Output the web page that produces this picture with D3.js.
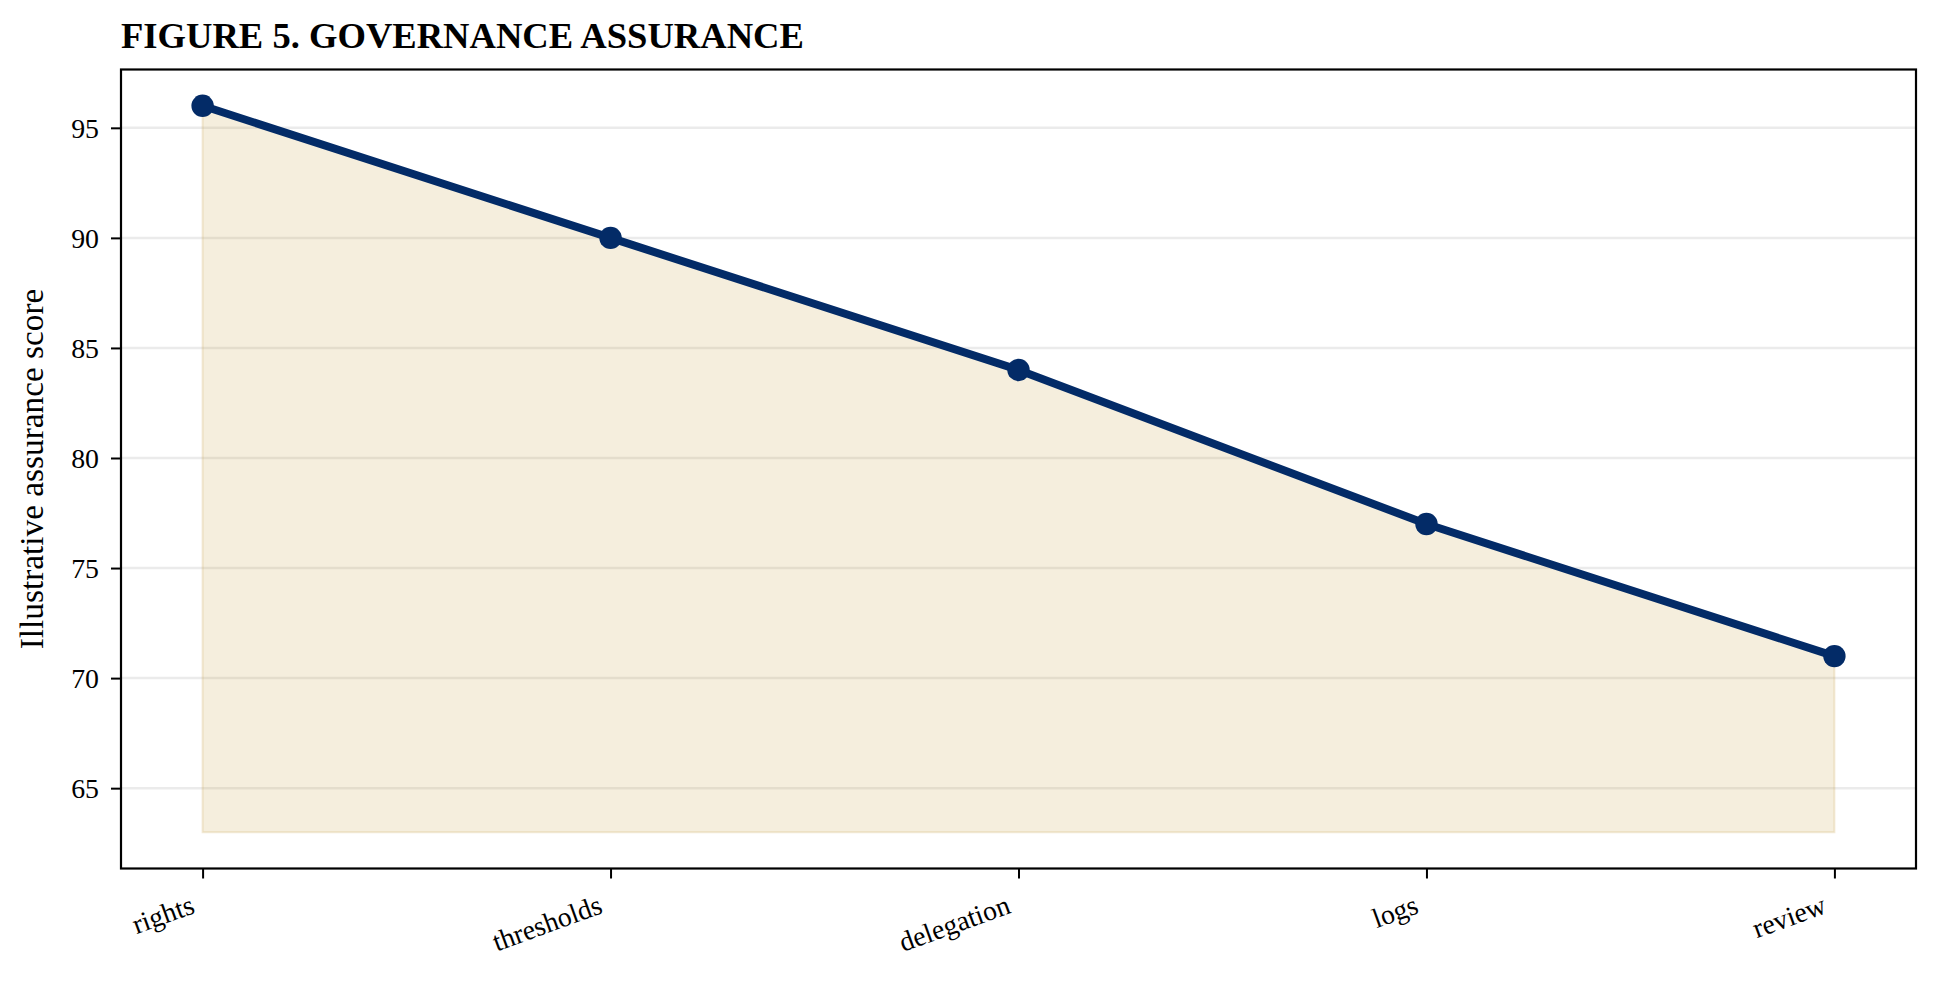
<!DOCTYPE html>
<html>
<head>
<meta charset="utf-8">
<script src="https://cdn.jsdelivr.net/npm/d3@7"></script>
<style>
  html, body { margin: 0; padding: 0; background: #fff; }
  svg text { font-family: "Liberation Serif", "Times New Roman", serif; fill: #000; }
</style>
</head>
<body>
<div id="chart"></div>
<script>
// chart data
const categories = ['rights', 'thresholds', 'delegation', 'logs', 'review'];
const scores = [96, 90, 84, 77, 71];
const fillBase = 63;
const yTicks = [65, 70, 75, 80, 85, 90, 95];
const chartTitle = 'FIGURE 5. GOVERNANCE ASSURANCE';
const yLabel = 'Illustrative assurance score';

const width = 1940;
const height = 983;
const margin = { top: 69.5, right: 24, bottom: 114.5, left: 121 };
const innerW = width - margin.left - margin.right;
const innerH = height - margin.top - margin.bottom;

const svg = d3.select('#chart')
    .append('svg')
    .attr('width', width)
    .attr('height', height);

// 5% padding around the data, the way matplotlib does autoscaling
const n = categories.length;
const xPad = (n - 1) * 0.05;
const x = d3.scaleLinear()
    .domain([-xPad, n - 1 + xPad])
    .range([0, innerW]);

const yMin = Math.min(fillBase, d3.min(scores));
const yMax = d3.max(scores);
const yPad = (yMax - yMin) * 0.05;
const y = d3.scaleLinear()
    .domain([yMin - yPad, yMax + yPad])
    .range([innerH, 0]);

const g = svg.append('g')
    .attr('transform', `translate(${margin.left},${margin.top})`);

// horizontal grid
g.append('g')
    .selectAll('line')
    .data(yTicks)
    .enter().append('line')
    .attr('x1', 0)
    .attr('x2', innerW)
    .attr('y1', d => y(d))
    .attr('y2', d => y(d))
    .attr('stroke', '#ebebeb')
    .attr('stroke-width', 2.5);

const pts = scores.map((v, i) => ({ i, v }));

// shaded area under the line
const area = d3.area()
    .x(d => x(d.i))
    .y0(y(fillBase))
    .y1(d => y(d.v));

g.append('path')
    .datum(pts)
    .attr('d', area)
    .attr('fill', '#c9a34c')
    .attr('fill-opacity', 0.19)
    .attr('stroke', '#c9a34c')
    .attr('stroke-opacity', 0.22)
    .attr('stroke-width', 2);

// line + markers
const line = d3.line()
    .x(d => x(d.i))
    .y(d => y(d.v));

g.append('path')
    .datum(pts)
    .attr('d', line)
    .attr('fill', 'none')
    .attr('stroke', '#032b67')
    .attr('stroke-width', 8)
    .attr('stroke-linejoin', 'round');

g.selectAll('circle.pt')
    .data(pts)
    .enter().append('circle')
    .attr('class', 'pt')
    .attr('cx', d => x(d.i))
    .attr('cy', d => y(d.v))
    .attr('r', 11.2)
    .attr('fill', '#032b67');

// y axis
const yAxis = g.append('g')
    .call(d3.axisLeft(y).tickValues(yTicks).tickSize(10).tickPadding(12).tickFormat(d3.format('d')));
yAxis.select('.domain').remove();
yAxis.selectAll('line').attr('stroke', '#000').attr('stroke-width', 2);
yAxis.selectAll('text')
    .style('font-size', '27.8px')
    .attr('dy', '0.34em');

// x axis
const xAxis = g.append('g')
    .attr('transform', `translate(0,${innerH})`)
    .call(d3.axisBottom(x).tickValues(d3.range(n)).tickSize(10).tickFormat(i => categories[i]));
xAxis.select('.domain').remove();
xAxis.selectAll('line').attr('stroke', '#000').attr('stroke-width', 2);
xAxis.selectAll('text')
    .style('font-size', '27.8px')
    .attr('text-anchor', 'end')
    .attr('dy', null)
    .attr('y', 0)
    .attr('transform', 'translate(-7,44) rotate(-20)');

// frame
g.append('rect')
    .attr('x', 0)
    .attr('y', 0)
    .attr('width', innerW)
    .attr('height', innerH)
    .attr('fill', 'none')
    .attr('stroke', '#000')
    .attr('stroke-width', 2.2);

// title
svg.append('text')
    .attr('x', margin.left)
    .attr('y', 48)
    .style('font-size', '36.6px')
    .style('font-weight', 'bold')
    .text(chartTitle);

// y label
svg.append('text')
    .attr('transform', `translate(43,${margin.top + innerH / 2}) rotate(-90)`)
    .attr('text-anchor', 'middle')
    .style('font-size', '33.3px')
    .text(yLabel);
</script>
</body>
</html>
